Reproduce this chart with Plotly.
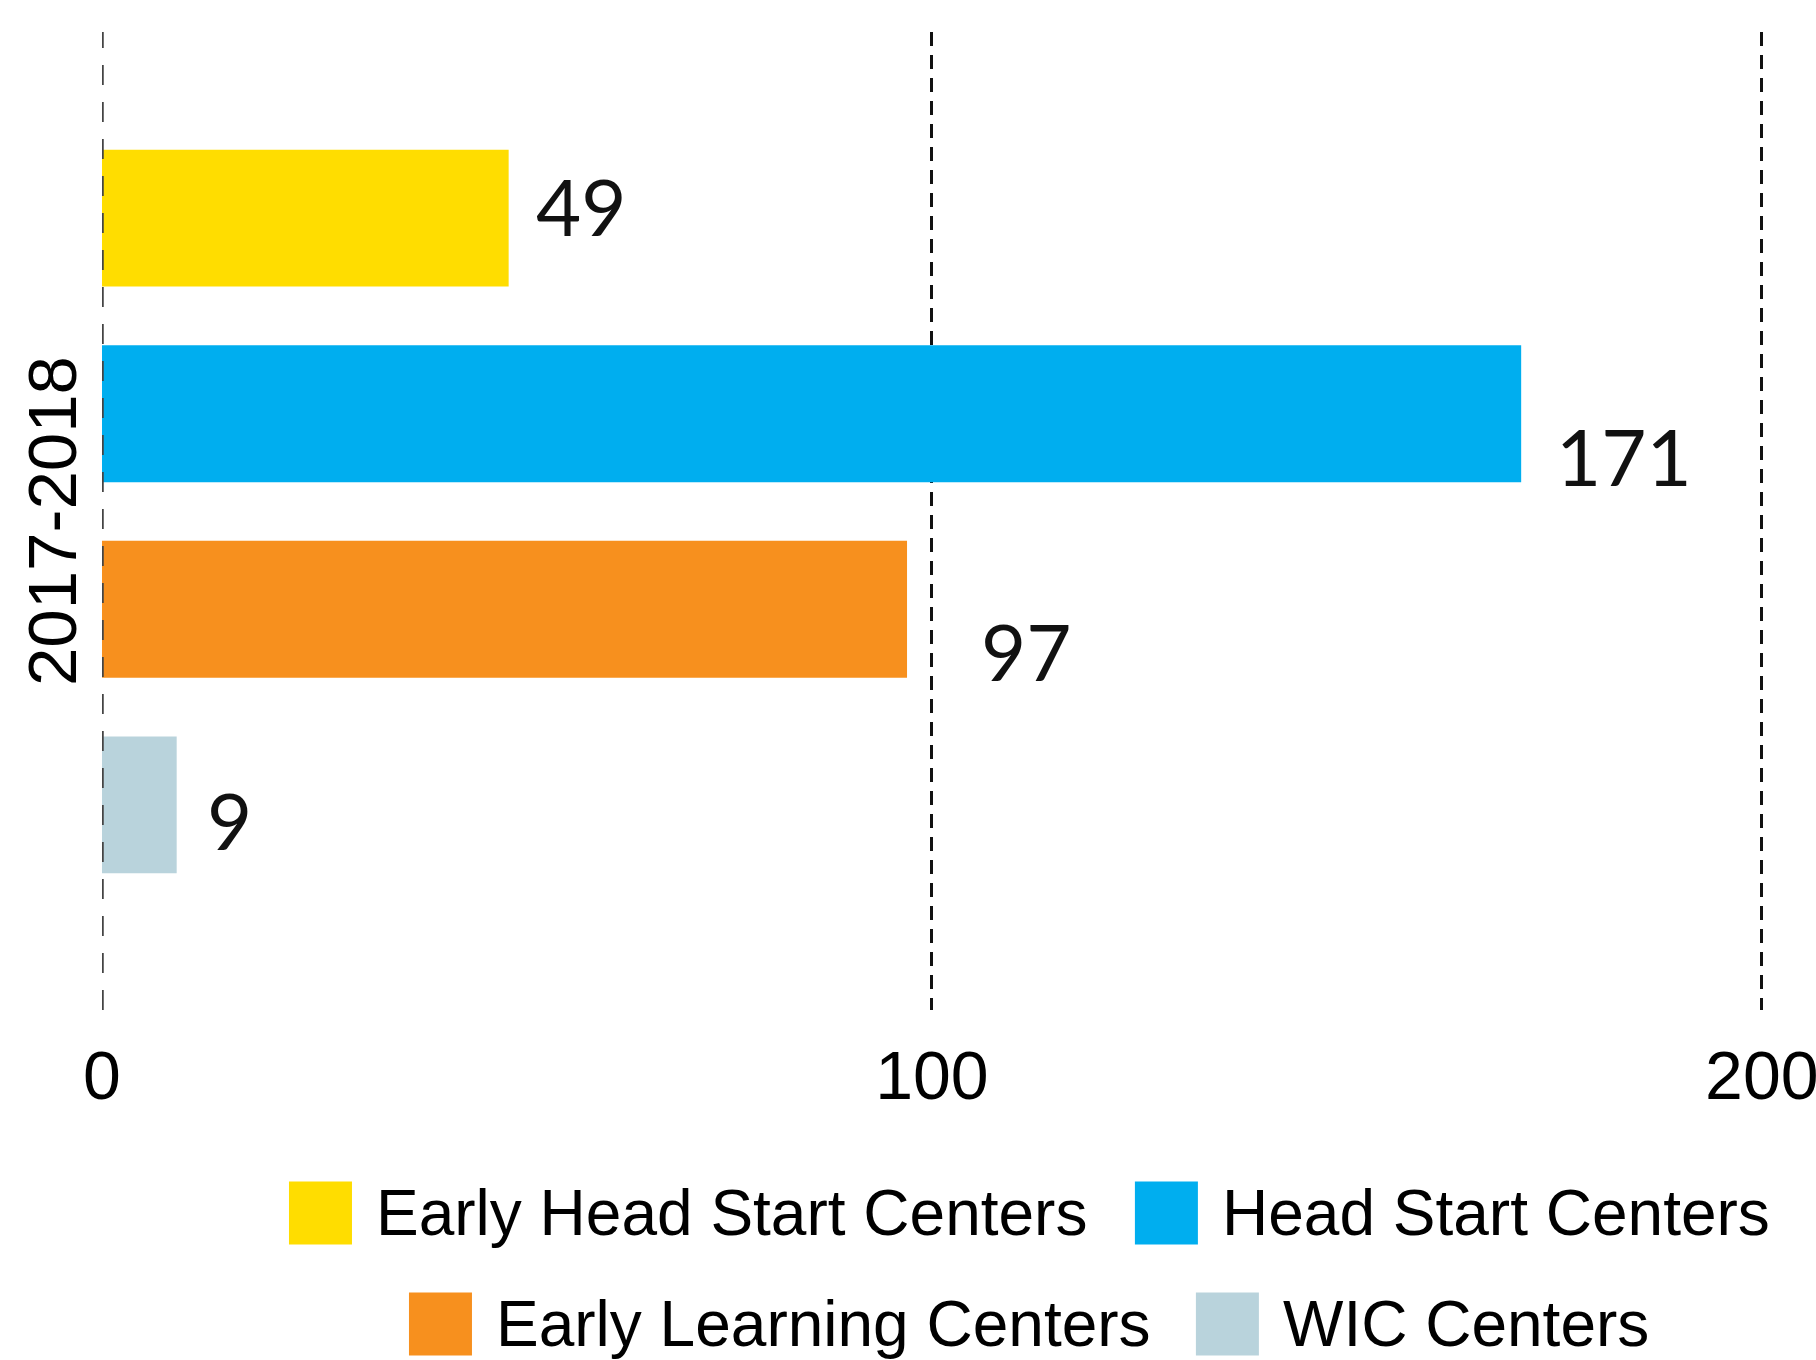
import plotly.graph_objects as go

# ---- data ----
categories = ["2017-2018"]
series_names = ["Early Head Start Centers", "Head Start Centers",
                "Early Learning Centers", "WIC Centers"]
series_values = [49, 171, 97, 9]
series_colors = ["#FFDD00", "#00AEEF", "#F7901E", "#B9D3DC"]
x_tick_values = [0, 100, 200]
x_tick_labels = ["0", "100", "200"]

# ---- layout geometry (pixels) ----
W, H = 1816, 1360
X_MAX = 200.5
px_per_unit = (1762 - 102) / 200
L, T, B = 102, 32, 350
plot_w = X_MAX * px_per_unit
R = W - L - plot_w
plot_h = H - T - B

SANS = "Liberation Sans, Arial, Helvetica, sans-serif"
LATO = "Lato, sans-serif"


def px_x(px):
    return (px - L) / plot_w


def px_y(py):
    return (T + plot_h - py) / plot_h


fig = go.Figure()
for name, val, col in zip(series_names, series_values, series_colors):
    fig.add_trace(go.Bar(
        x=[val], y=categories, name=name, orientation="h",
        marker=dict(color=col, line=dict(width=0)),
        showlegend=False,
    ))

# data labels (offsets are styling, in pixels)
label_dx = [25, 33, 72, 28]
label_dy = [-12, 42, 42, 15]
n = len(series_values)
group_w = 0.8
slot = group_w / n
annotations = []
for i, val in enumerate(series_values):
    yc = -group_w / 2 + slot * (i + 0.5)
    annotations.append(dict(
        x=val, y=yc, xref="x", yref="y", text=str(val), showarrow=False,
        xanchor="left", yanchor="middle", xshift=label_dx[i], yshift=-label_dy[i],
        font=dict(family=LATO, size=78, color="#111111"),
    ))

# category label (rotated, left of axis)
annotations.append(dict(
    x=px_x(52), y=px_y(521), xref="paper", yref="paper",
    text=categories[0], showarrow=False, textangle=-90,
    xanchor="center", yanchor="middle",
    font=dict(family=SANS, size=69, color="#000000"),
))

# custom legend: big square swatches
legend_slots = [(289, 1213), (1135, 1213), (409, 1324), (1196, 1324)]
sw = 63
shapes = []
for (sx, sy), name, col in zip(legend_slots, series_names, series_colors):
    shapes.append(dict(
        type="rect", xref="paper", yref="paper",
        x0=px_x(sx), x1=px_x(sx + sw), y0=px_y(sy + sw / 2), y1=px_y(sy - sw / 2),
        fillcolor=col, line=dict(width=0), layer="above",
    ))
    annotations.append(dict(
        x=px_x(sx + sw + 22), y=px_y(sy), xref="paper", yref="paper",
        text=name, showarrow=False, xanchor="left", yanchor="middle",
        font=dict(family=SANS, size=64, color="#000000"),
    ))

# dashed zero line drawn above bars
shapes.append(dict(
    type="line", xref="x", yref="paper", x0=0, x1=0, y0=0, y1=1,
    line=dict(color="#444444", width=3.5, dash="20px,17px"), layer="above",
))

fig.update_layout(
    width=W, height=H,
    margin=dict(l=L, r=R, t=T, b=B, autoexpand=False),
    paper_bgcolor="white", plot_bgcolor="white",
    barmode="group", bargap=0.2, bargroupgap=0.3,
    showlegend=False,
    annotations=annotations, shapes=shapes,
    font=dict(family=SANS, color="#000000"),
    xaxis=dict(
        range=[0, X_MAX], tickvals=x_tick_values, ticktext=x_tick_labels,
        showgrid=True, gridcolor="#111111", gridwidth=2.5, griddash="14px,9px",
        zeroline=True, zerolinecolor="rgba(0,0,0,0)",
        showline=False, ticks="", tickfont=dict(family=SANS, size=68),
        ticklabelstandoff=20, ticklabeloverflow="allow",
        automargin=False, fixedrange=True,
    ),
    yaxis=dict(
        type="category", range=[0.5097, -0.4903],
        showgrid=False, zeroline=False, showline=False, ticks="",
        showticklabels=False, automargin=False, fixedrange=True,
    ),
)

fig.write_html("out.html", config={"displayModeBar": False},
               post_script="document.body.style.margin='0px';")
